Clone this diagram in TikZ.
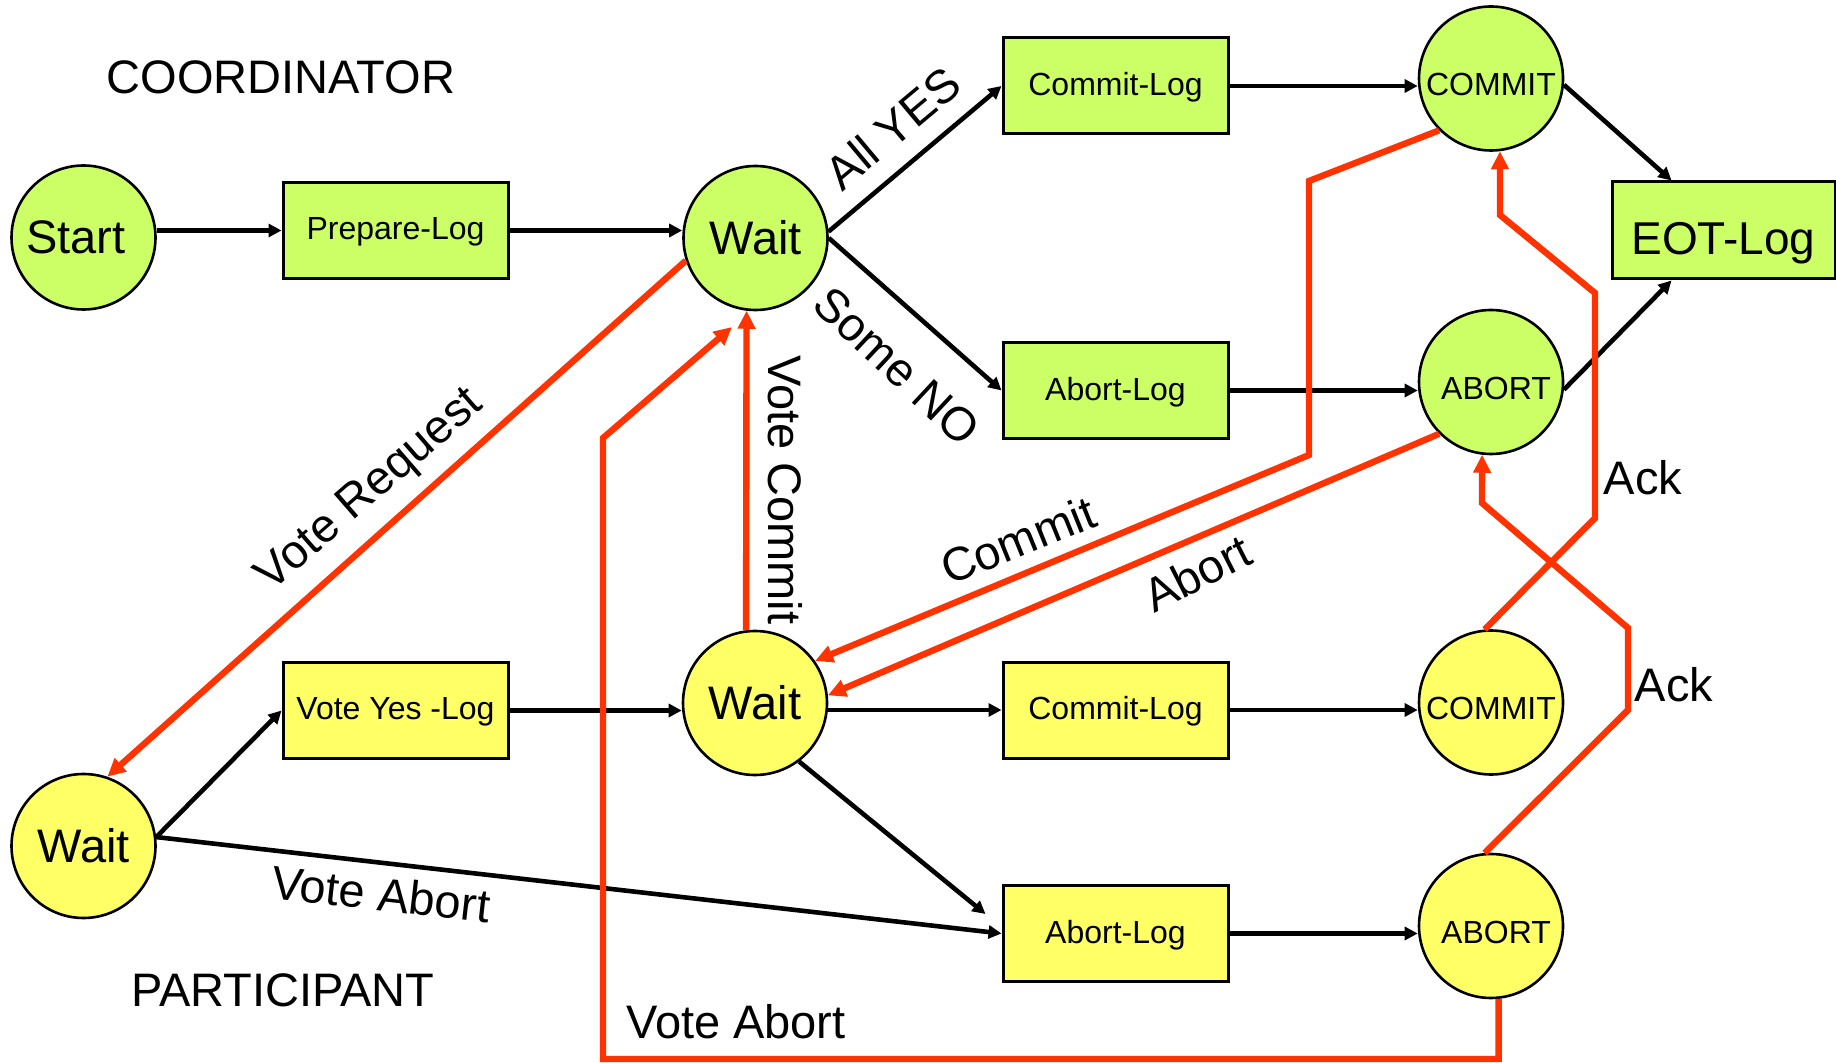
\documentclass[tikz,border=0pt]{standalone}
\usepackage{fontspec}
\setmainfont{Liberation Sans}
\usetikzlibrary{arrows.meta,calc}
\definecolor{cgreen}{HTML}{CCFF66}
\definecolor{pyellow}{HTML}{FFFF66}
\definecolor{msgred}{HTML}{FF3300}
\newcommand\fbig{\fontsize{23.5}{28}\selectfont}
\newcommand\fsmall{\fontsize{16}{19}\selectfont}
\begin{document}
\begin{tikzpicture}[x=0.5pt,y=-0.5pt,
  coordc/.style={circle,draw,line width=1.3pt,fill=cgreen,minimum size=72pt,inner sep=0pt},
  partc/.style={circle,draw,line width=1.3pt,fill=pyellow,minimum size=72pt,inner sep=0pt},
  statetxt/.style={font=\fsmall,text height=17.4pt,text depth=0pt},
  logbox/.style={rectangle,draw,line width=1.5pt,minimum width=112.5pt,minimum height=48pt,inner sep=0pt,font=\fsmall,text depth=1.6pt},
  blk/.style={-{Triangle[length=6.5pt,width=6.5pt]},line width=2.3pt},
  redarr/.style={draw=msgred,line width=3.2pt,-{Triangle[length=9pt,width=8.5pt]}},
  lbl/.style={font=\fbig,inner sep=0pt}]
\useasboundingbox (0,0) rectangle (1836,1063);

% coordinator
\node[coordc,font=\fbig] (start) at (83.5,237.5) {\hspace*{-7.6pt}Start};
\node[logbox,fill=cgreen] (prep) at (395.5,230.5) {Prepare-Log};
\node[coordc,font=\fbig] (cwait) at (755.5,238) {Wait};
\node[logbox,fill=cgreen] (clog) at (1115.5,86) {Commit-Log};
\node[logbox,fill=cgreen] (alog) at (1115.5,390.5) {Abort-Log};
\node[coordc,statetxt] (ccommit) at (1491,78.5) {COMMIT};
\node[coordc,statetxt] (cabort) at (1491,382) {\hspace*{5pt}ABORT};
\node[rectangle,draw,line width=1.5pt,fill=cgreen,minimum width=111.5pt,minimum height=48.5pt,inner sep=0pt,font=\fontsize{23}{27}\selectfont,text height=24pt,text depth=0pt] (eot) at (1723.5,230.5) {EOT-Log};

% participant
\node[partc,font=\fbig] (pwait) at (83.5,846) {Wait};
\node[logbox,fill=pyellow] (vylog) at (395.5,710.5) {Vote Yes -Log};
\node[partc,font=\fbig] (pwait2) at (755,703) {Wait};
\node[logbox,fill=pyellow] (pclog) at (1115.5,710) {Commit-Log};
\node[logbox,fill=pyellow] (palog) at (1115.5,933.5) {Abort-Log};
\node[partc,statetxt] (pcommit) at (1491,702.5) {COMMIT};
\node[partc,statetxt] (pabort) at (1491,926) {\hspace*{5pt}ABORT};

% black transitions
\draw[blk] (prep.west -| start.east) -- (prep.west);
\draw[blk] (prep.east) -- (prep.east -| cwait.west);
\draw[blk] (cwait.5) -- (clog.west);
\draw[blk] (cwait.0) -- (alog.west);
\draw[blk] (clog.east) -- (clog.east -| ccommit.west);
\draw[blk] (alog.east) -- (alog.east -| cabort.west);
\draw[blk] (ccommit.-5) -- ($(eot.north west)+(61,0)$);
\draw[blk] (cabort.-6) -- ($(eot.south west)+(61,0)$);
\draw[blk] (pwait.7) -- (vylog.west);
\draw[blk] (pwait.7) -- (palog.west);
\draw[blk] (vylog.east) -- (vylog.east -| pwait2.west);
\draw[blk] (pclog.west -| pwait2.east) -- (pclog.west);
\draw[blk] (pwait2.-53) -- ($(palog.north west)+(-16,30)$);
\draw[blk] (pclog.east) -- (pclog.east -| pcommit.west);
\draw[blk] (palog.east) -- (palog.east -| pabort.west);

% red messages
\coordinate (va1) at (603,1059);
\coordinate (va2) at (603,438);
\coordinate (va3) at (732,327);
\coordinate (cm1) at (1309,181);
\coordinate (cm2) at (1309,455);
\coordinate (ak1) at (1595,518);
\coordinate (ak2) at (1595,293);
\coordinate (ak3) at (1500,215);
\coordinate (ab1) at (1628,710);
\coordinate (ab2) at (1628,628);
\coordinate (ab3) at (1482,503);

\draw[redarr] (cwait.198) -- (pwait.71);
\draw[redarr] (pwait2.97) -- (cwait.263);
\draw[redarr] (pabort.-84) |- (va1) -- (va2) -- (va3);
\draw[redarr] (ccommit.225) -- (cm1) -- (cm2) -- (pwait2.35);
\draw[redarr] (cabort.225) -- (pwait2.6);
\draw[redarr] (pcommit.95) -- (ak1) -- (ak2) -- (ak3) -- (ccommit.-83);
\draw[redarr] (pabort.95) -- (ab1) -- (ab2) -- (ab3) -- (cabort.-97);

% labels
\node[lbl] (tcoord) at (281,77) {COORDINATOR};
\node[lbl] (tpart) at (283,990) {PARTICIPANT};
\node[lbl,rotate=40] (tyes) at (893,128) {All YES};
\node[lbl,rotate=-43] (tno) at (897,366) {Some NO};
\node[lbl,rotate=41] (treq) at (371,491) {Vote Request};
\node[lbl,rotate=-90] (tvc) at (785,490) {Vote Commit};
\node[lbl,rotate=22] (tcm) at (1018,540) {Commit};
\node[lbl,rotate=27] (tab) at (1197,573) {Abort};
\node[lbl] (tack1) at (1643,478) {Ack};
\node[lbl] (tack2) at (1674,685) {Ack};
\node[lbl,rotate=-6.5] (tva1) at (381,894) {Vote Abort};
\node[lbl] (tva2) at (736,1022) {Vote Abort};
\end{tikzpicture}
\end{document}
